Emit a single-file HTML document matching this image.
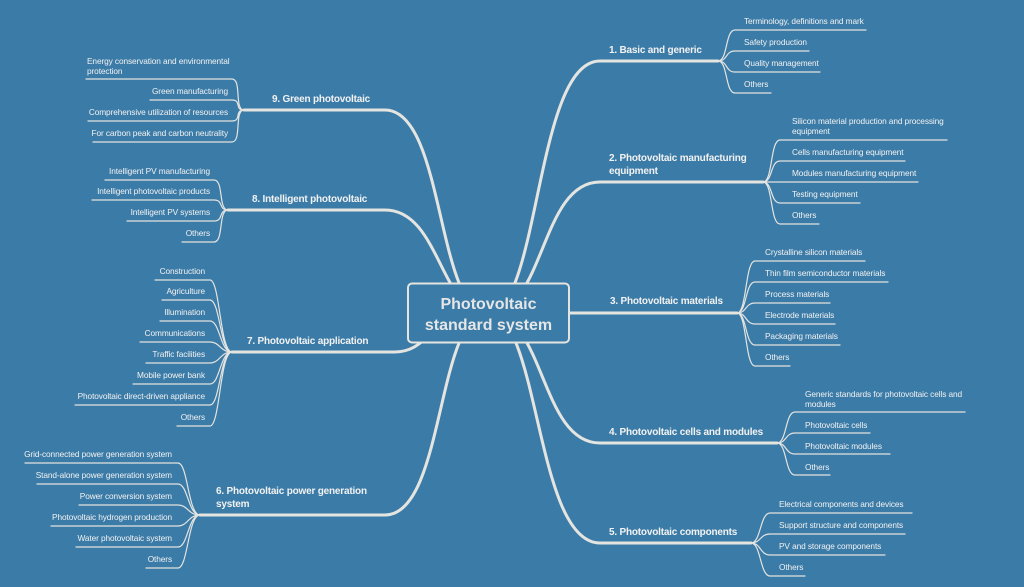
<!DOCTYPE html>
<html><head><meta charset="utf-8"><style>
html,body{margin:0;padding:0;background:#3b7ba7;}
svg{display:block}
text{font-family:"Liberation Sans",sans-serif;fill:#f2f2f2}
.l{font-size:8.3px;letter-spacing:-0.1px}
.b{font-size:10px;font-weight:bold;letter-spacing:-0.2px}
.c{font-size:16px;font-weight:bold;fill:#e6e6e6}
path{fill:none;stroke:#e4e4e0;stroke-linecap:round}
.m{stroke-width:3}
.s{stroke-width:1.2}
</style></head><body>
<svg width="1024" height="587" viewBox="0 0 1024 587" xmlns="http://www.w3.org/2000/svg">
<rect width="1024" height="587" fill="#3b7ba7"/>
<!-- main curves -->
<path class="m" d="M488 313 C540 313,535 61,600 61 H718"/>
<path class="m" d="M488 313 C545 313,540 182,600 182 H763"/>
<path class="m" d="M488 313 H737"/>
<path class="m" d="M488 313 C545 313,540 443,600 443 H777"/>
<path class="m" d="M488 313 C540 313,535 543,600 543 H751"/>
<path class="m" d="M488 313 C436 313,445 110,385 110 H244"/>
<path class="m" d="M488 313 C440 313,440 210,385 210 H228"/>
<path class="m" d="M488 313 C430 313,430 352,395 352 H232"/>
<path class="m" d="M488 313 C436 313,445 515,385 515 H200"/>
<!-- right leaves B1 -->
<path class="s" d="M718 61 C728 61,725 30,735 30 H866 M718 61 C728 61,725 51,735 51 H809 M718 61 C728 61,725 72,735 72 H820 M718 61 C728 61,725 93,735 93 H771"/>
<text class="l" x="744" y="24">Terminology, definitions and mark</text>
<text class="l" x="744" y="45">Safety production</text>
<text class="l" x="744" y="66">Quality management</text>
<text class="l" x="744" y="87">Others</text>
<text class="b" x="609" y="53">1. Basic and generic</text>
<!-- B2 -->
<path class="s" d="M763 182 C773 182,770 140,780 140 H947 M763 182 C773 182,770 161,780 161 H905 M763 182 H918 M763 182 C773 182,770 203,780 203 H860 M763 182 C773 182,770 224,780 224 H819"/>
<text class="l" x="792" y="124">Silicon material production and processing</text>
<text class="l" x="792" y="134">equipment</text>
<text class="l" x="792" y="155">Cells manufacturing equipment</text>
<text class="l" x="792" y="176">Modules manufacturing equipment</text>
<text class="l" x="792" y="197">Testing equipment</text>
<text class="l" x="792" y="218">Others</text>
<text class="b" x="609" y="161">2. Photovoltaic manufacturing</text>
<text class="b" x="609" y="174">equipment</text>
<!-- B3 -->
<path class="s" d="M737 313 C747 313,745 261,755 261 H865 M737 313 C747 313,745 282,755 282 H888 M737 313 C747 313,745 303,755 303 H830 M737 313 C747 313,745 324,755 324 H835 M737 313 C747 313,745 345,755 345 H840 M737 313 C747 313,745 366,755 366 H790"/>
<text class="l" x="765" y="255">Crystalline silicon materials</text>
<text class="l" x="765" y="276">Thin film semiconductor materials</text>
<text class="l" x="765" y="297">Process materials</text>
<text class="l" x="765" y="318">Electrode materials</text>
<text class="l" x="765" y="339">Packaging materials</text>
<text class="l" x="765" y="360">Others</text>
<text class="b" x="610" y="304">3. Photovoltaic materials</text>
<!-- B4 -->
<path class="s" d="M777 443 C787 443,785 412,795 412 H965 M777 443 C787 443,785 433,795 433 H870 M777 443 C787 443,785 454,795 454 H890 M777 443 C787 443,785 475,795 475 H830"/>
<text class="l" x="805" y="397">Generic standards for photovoltaic cells and</text>
<text class="l" x="805" y="407">modules</text>
<text class="l" x="805" y="428">Photovoltaic cells</text>
<text class="l" x="805" y="449">Photovoltaic modules</text>
<text class="l" x="805" y="470">Others</text>
<text class="b" x="609" y="435">4. Photovoltaic cells and modules</text>
<!-- B5 -->
<path class="s" d="M751 543 C761 543,760 513,770 513 H912 M751 543 C761 543,760 534,770 534 H905 M751 543 C761 543,760 555,770 555 H885 M751 543 C761 543,760 576,770 576 H805"/>
<text class="l" x="779" y="507">Electrical components and devices</text>
<text class="l" x="779" y="528">Support structure and components</text>
<text class="l" x="779" y="549">PV and storage components</text>
<text class="l" x="779" y="570">Others</text>
<text class="b" x="609" y="535">5. Photovoltaic components</text>
<!-- B9 -->
<path class="s" d="M244 110 C234 110,242 79,232 79 H86 M244 110 C234 110,242 100,232 100 H150 M244 110 C234 110,242 121,232 121 H88 M244 110 C234 110,242 142,232 142 H93"/>
<text class="l" x="87" y="64">Energy conservation and environmental</text>
<text class="l" x="87" y="74">protection</text>
<text class="l" x="228" y="94" text-anchor="end">Green manufacturing</text>
<text class="l" x="228" y="115" text-anchor="end">Comprehensive utilization of resources</text>
<text class="l" x="228" y="136" text-anchor="end">For carbon peak and carbon neutrality</text>
<text class="b" x="272" y="102">9. Green photovoltaic</text>
<!-- B8 -->
<path class="s" d="M228 210 C218 210,224 180,214 180 H105 M228 210 C218 210,224 200,214 200 H92 M228 210 C218 210,224 221,214 221 H127 M228 210 C218 210,224 242,214 242 H182"/>
<text class="l" x="210" y="174" text-anchor="end">Intelligent PV manufacturing</text>
<text class="l" x="210" y="194" text-anchor="end">Intelligent photovoltaic products</text>
<text class="l" x="210" y="215" text-anchor="end">Intelligent PV systems</text>
<text class="l" x="210" y="236" text-anchor="end">Others</text>
<text class="b" x="252" y="202">8. Intelligent photovoltaic</text>
<!-- B7 -->
<path class="s" d="M232 352 C220 352,220 280,210 280 H155 M232 352 C220 352,220 300,210 300 H162 M232 352 C220 352,220 321,210 321 H160 M232 352 C220 352,220 342,210 342 H140 M232 352 C220 352,220 363,210 363 H146 M232 352 C220 352,220 384,210 384 H133 M232 352 C220 352,220 405,210 405 H75 M232 352 C220 352,220 426,210 426 H177"/>
<text class="l" x="205" y="274" text-anchor="end">Construction</text>
<text class="l" x="205" y="294" text-anchor="end">Agriculture</text>
<text class="l" x="205" y="315" text-anchor="end">Illumination</text>
<text class="l" x="205" y="336" text-anchor="end">Communications</text>
<text class="l" x="205" y="357" text-anchor="end">Traffic facilities</text>
<text class="l" x="205" y="378" text-anchor="end">Mobile power bank</text>
<text class="l" x="205" y="399" text-anchor="end">Photovoltaic direct-driven appliance</text>
<text class="l" x="205" y="420" text-anchor="end">Others</text>
<text class="b" x="247" y="344">7. Photovoltaic application</text>
<!-- B6 -->
<path class="s" d="M200 515 C188 515,188 463,178 463 H25 M200 515 C188 515,188 484,178 484 H37 M200 515 C188 515,188 505,178 505 H79 M200 515 C188 515,188 526,178 526 H51 M200 515 C188 515,188 547,178 547 H76 M200 515 C188 515,188 568,178 568 H146"/>
<text class="l" x="172" y="457" text-anchor="end">Grid-connected power generation system</text>
<text class="l" x="172" y="478" text-anchor="end">Stand-alone power generation system</text>
<text class="l" x="172" y="499" text-anchor="end">Power conversion system</text>
<text class="l" x="172" y="520" text-anchor="end">Photovoltaic hydrogen production</text>
<text class="l" x="172" y="541" text-anchor="end">Water photovoltaic system</text>
<text class="l" x="172" y="562" text-anchor="end">Others</text>
<text class="b" x="216" y="494">6. Photovoltaic power generation</text>
<text class="b" x="216" y="507">system</text>
<!-- center -->
<rect x="408" y="283.5" width="161" height="59" rx="4" fill="#3b7ba7" stroke="#e4e4e0" stroke-width="2"/>
<text class="c" x="488.5" y="309" text-anchor="middle">Photovoltaic</text>
<text class="c" x="488.5" y="330" text-anchor="middle">standard system</text>
</svg>
</body></html>
